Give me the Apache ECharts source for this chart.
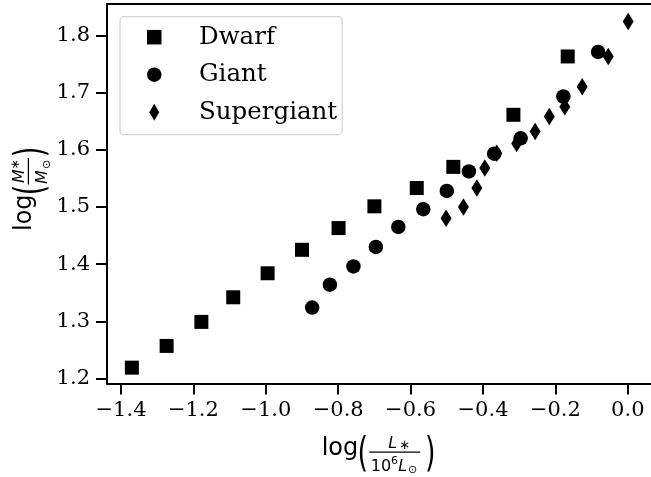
<!DOCTYPE html>
<html><head><meta charset="utf-8">
<script src="https://cdn.jsdelivr.net/npm/echarts@6/dist/echarts.min.js"></script>
<style>html,body{margin:0;padding:0;background:#fff}#c{width:651px;height:477px}</style>
</head><body><div id="c"></div>
<script>
// ---- data ----
const seriesNames = ['Dwarf', 'Giant', 'Supergiant'];
const dwarfX = [-1.370, -1.274, -1.178, -1.090, -0.995, -0.900, -0.799, -0.700, -0.583, -0.482, -0.316, -0.166];
const dwarfY = [1.219, 1.257, 1.299, 1.342, 1.384, 1.425, 1.463, 1.501, 1.533, 1.570, 1.661, 1.763];
const giantX = [-0.872, -0.823, -0.758, -0.696, -0.634, -0.565, -0.500, -0.439, -0.369, -0.296, -0.178, -0.082];
const giantY = [1.324, 1.364, 1.396, 1.430, 1.465, 1.496, 1.528, 1.562, 1.593, 1.620, 1.693, 1.771];
const superX = [-0.502, -0.454, -0.417, -0.395, -0.362, -0.307, -0.256, -0.217, -0.174, -0.126, -0.054, 0.001];
const superY = [1.480, 1.500, 1.533, 1.568, 1.594, 1.611, 1.632, 1.658, 1.675, 1.710, 1.763, 1.824];
const xTicks = [-1.4, -1.2, -1.0, -0.8, -0.6, -0.4, -0.2, 0.0];
const yTicks = [1.2, 1.3, 1.4, 1.5, 1.6, 1.7, 1.8];

const zip = (a, b) => a.map((v, i) => [v, b[i]]);
const fmt = v => (v < -1e-9 ? '\u2212' : '') + Math.abs(v).toFixed(1);

const SERIF = 'DejaVu Serif';
const SANS = 'DejaVu Sans';
const MID = 0.346; // canvas middle-baseline offset (em)

function T(txt, x, base, fs, extra) {
  extra = extra || {};
  return {
    type: 'text', x: x, y: base - MID * fs,
    style: {
      text: txt, fontSize: fs, fontFamily: SANS, fontStyle: extra.italic ? 'italic' : 'normal',
      fill: '#000', align: extra.align || 'left', verticalAlign: 'middle'
    }
  };
}
function P(txt, cx, cy) { // stretched parenthesis
  return {
    type: 'text', x: cx, y: cy, scaleY: 1.5,
    style: { text: txt, fontSize: 27, fontFamily: SANS, fill: '#000', align: 'center', verticalAlign: 'middle' }
  };
}
function line(x1, x2, y) {
  return { type: 'rect', shape: { x: x1, y: y - 0.65, width: x2 - x1, height: 1.3 }, style: { fill: '#000' } };
}

const xLabel = {
  type: 'group', x: 321.7, y: 456.7,
  children: [
    T('log', 0, 0, 24),
    P('(', 41, -1),
    T('L', 71, -7.4, 16, { italic: true, align: 'center' }),
    T('\u2217', 83, -6.5, 13, { align: 'center' }),
    line(47.5, 98.5, -4.6),
    T('10', 49, 15.5, 16),
    T('6', 69.4, 8.5, 11),
    T('L', 76.5, 15.5, 16, { italic: true }),
    T('\u2299', 91, 17.5, 11, { align: 'center' }),
    P(')', 108.5, -1)
  ]
};
const yLabel = {
  type: 'group', x: 33, y: 231, rotation: Math.PI / 2,
  children: [
    T('log', 0, 0, 24),
    P('(', 41, -1),
    T('M', 48, -7.4, 16, { italic: true }),
    T('\u2217', 66.5, -13, 12, { align: 'center' }),
    line(46.5, 73, -4.6),
    T('M', 47, 15.5, 16, { italic: true }),
    T('\u2299', 66.5, 17.5, 11, { align: 'center' }),
    P(')', 79, -1)
  ]
};

const chart = echarts.init(document.getElementById('c'), null, { renderer: 'canvas' });
const axisCommon = {
  type: 'value',
  splitLine: { show: false },
  axisLine: { show: true, onZero: false, lineStyle: { color: '#000', width: 2 } }
};
const squarePath = 'path://M0,0 L10,0 L10,10 L0,10 Z';
chart.setOption({
  animation: false,
  backgroundColor: '#fff',
  grid: { left: 107, right: 0, top: 4, bottom: 93.5, containLabel: false, outerBoundsMode: 'none' },
  xAxis: [
    Object.assign({}, axisCommon, {
      position: 'bottom', min: -1.4387, max: 0.0641,
      axisTick: { show: true, length: 11, lineStyle: { color: '#000', width: 2 }, customValues: xTicks },
      axisLabel: { customValues: xTicks, formatter: fmt, fontFamily: SERIF, fontSize: 21, color: '#000', margin: 17 }
    }),
    Object.assign({}, axisCommon, {
      position: 'top', min: -1.4387, max: 0.0641,
      axisTick: { show: false }, axisLabel: { show: false }
    })
  ],
  yAxis: [
    Object.assign({}, axisCommon, {
      position: 'left', min: 1.1913, max: 1.8547,
      axisTick: { show: true, length: 11, lineStyle: { color: '#000', width: 2 }, customValues: yTicks },
      axisLabel: { customValues: yTicks, formatter: fmt, fontFamily: SERIF, fontSize: 21, color: '#000', margin: 17 }
    })
  ],
  legend: {
    orient: 'vertical', left: 120, top: 16.7,
    padding: [8, 5, 10, 27],
    itemWidth: 14.5, itemHeight: 17, itemGap: 12.5,
    backgroundColor: '#fff', borderColor: '#d4d4d4', borderWidth: 1.3, borderRadius: 4,
    formatter: name => '{g| }{t|' + name + '}',
    textStyle: {
      fontFamily: SERIF, fontSize: 24.5, color: '#000', lineHeight: 24,
      rich: {
        g: { width: 32.5, fontSize: 24.5, fontFamily: SERIF, lineHeight: 24 },
        t: { fontSize: 24.5, fontFamily: SERIF, color: '#000', lineHeight: 24 }
      }
    },
    data: [
      { name: 'Dwarf', icon: squarePath },
      { name: 'Giant', icon: 'circle' },
      { name: 'Supergiant', icon: 'path://M5,0 L10,8.5 L5,17 L0,8.5 Z' }
    ]
  },
  series: [
    { name: seriesNames[0], type: 'scatter', symbol: 'rect', symbolSize: 14, itemStyle: { color: '#000', opacity: 1 }, data: zip(dwarfX, dwarfY) },
    { name: seriesNames[1], type: 'scatter', symbol: 'circle', symbolSize: 14.5, itemStyle: { color: '#000', opacity: 1 }, data: zip(giantX, giantY) },
    { name: seriesNames[2], type: 'scatter', symbol: 'diamond', symbolSize: [11, 17.5], itemStyle: { color: '#000', opacity: 1 }, data: zip(superX, superY) }
  ],
  graphic: [xLabel, yLabel]
});
</script>
</body></html>
